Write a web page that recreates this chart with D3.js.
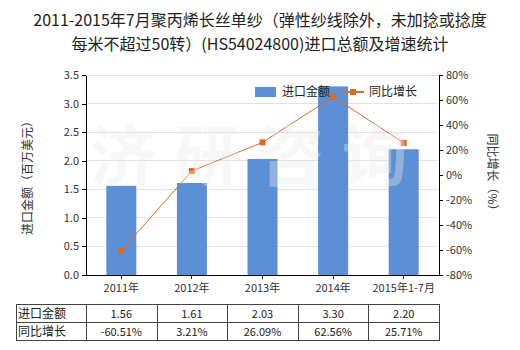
<!DOCTYPE html>
<html>
<head>
<meta charset="utf-8">
<script src="https://cdn.jsdelivr.net/npm/d3@7"></script>
<style>
  html, body { margin: 0; padding: 0; background: #fff; }
  svg { display: block; font-family: "Noto Sans CJK SC", "Noto Sans", sans-serif; }
</style>
</head>
<body>
<svg id="chart" width="520" height="350"></svg>
<script>
// Categories and series
const categories = ["2011年", "2012年", "2013年", "2014年", "2015年1-7月"];
const importValue = [1.56, 1.61, 2.03, 3.30, 2.20];          // 百万美元
const growthRate = [-60.51, 3.21, 26.09, 62.56, 25.71];      // %
const leftTicks = [0, 0.5, 1.0, 1.5, 2.0, 2.5, 3.0, 3.5];
const rightTicks = [-80, -60, -40, -20, 0, 20, 40, 60, 80];

const barColor = "#5b8fd6";
const lineColor = "#dc6a24";
const textColor = "#333";

const svg = d3.select("#chart");
const plot = { left: 86, right: 439, top: 75, bottom: 275 };

const band = d3.scaleBand().domain(categories).range([plot.left, plot.right]);
const yL = d3.scaleLinear().domain([0, 3.5]).range([plot.bottom, plot.top]);
const yR = d3.scaleLinear().domain([-80, 80]).range([plot.bottom, plot.top]);
const cx = d => band(d) + band.bandwidth() / 2;

// Title
const title = svg.append("text").attr("text-anchor", "middle").attr("fill", "#222")
  .style("font-size", "16px");
title.append("tspan").attr("x", 260).attr("y", 26).text("2011-2015年7月聚丙烯长丝单纱（弹性纱线除外，未加捻或捻度");
title.append("tspan").attr("x", 260).attr("y", 50).text("每米不超过50转）(HS54024800)进口总额及增速统计");

// Gridlines
svg.append("g").selectAll("line").data(leftTicks.slice(1)).join("line")
  .attr("x1", plot.left).attr("x2", plot.right)
  .attr("y1", d => yL(d)).attr("y2", d => yL(d))
  .attr("stroke", "#e3e3e3").attr("stroke-width", 1).attr("shape-rendering", "crispEdges");

// Bars
svg.append("g").selectAll("rect").data(categories).join("rect")
  .attr("x", d => cx(d) - 15)
  .attr("width", 30)
  .attr("y", (d, i) => yL(importValue[i]))
  .attr("height", (d, i) => yL(0) - yL(importValue[i]))
  .attr("fill", barColor);

// Growth line
const line = d3.line().x((d, i) => cx(categories[i])).y(d => yR(d));
svg.append("path").datum(growthRate).attr("d", line)
  .attr("fill", "none").attr("stroke", lineColor).attr("stroke-width", 1);
svg.append("g").selectAll("rect").data(growthRate).join("rect")
  .attr("x", (d, i) => cx(categories[i]) - 3).attr("y", d => yR(d) - 3)
  .attr("width", 6).attr("height", 6).attr("fill", lineColor);

// Watermark, laid over the plot
svg.append("text").attr("x", 258).attr("y", 180).attr("text-anchor", "middle")
  .attr("fill", "#ebebeb").attr("fill-opacity", 0.38)
  .style("font-size", "66px").style("font-weight", "bold").style("letter-spacing", "18px")
  .text("济研咨询");

// Axes
const axL = svg.append("g").attr("transform", `translate(${plot.left},0)`)
  .call(d3.axisLeft(yL).tickValues(leftTicks).tickFormat(d3.format(".1f")).tickSize(4).tickSizeOuter(0));
const axR = svg.append("g").attr("transform", `translate(${plot.right},0)`)
  .call(d3.axisRight(yR).tickValues(rightTicks).tickFormat(d => d + "%").tickSize(4).tickSizeOuter(0));
const axB = svg.append("g").attr("transform", `translate(0,${plot.bottom})`)
  .call(d3.axisBottom(band).tickSize(4).tickSizeOuter(0));
[axL, axR, axB].forEach(a => {
  a.selectAll("path, line").attr("stroke", "#000").attr("shape-rendering", "crispEdges");
  a.selectAll("text").attr("fill", textColor).style("font-size", "11px").style("font-family", "'Noto Sans CJK SC', sans-serif");
});
axB.selectAll("text").attr("dy", "0.9em");

// Axis titles
svg.append("text").attr("transform", "translate(32,175) rotate(-90)").attr("text-anchor", "middle")
  .attr("fill", textColor).style("font-size", "12px").text("进口金额（百万美元）");
svg.append("text").attr("transform", "translate(488,175) rotate(90)").attr("text-anchor", "middle")
  .attr("fill", textColor).style("font-size", "12px").text("同比增长（%）");

// Legend
const lg = svg.append("g");
lg.append("rect").attr("x", 255).attr("y", 87).attr("width", 21).attr("height", 10).attr("fill", barColor);
lg.append("text").attr("x", 282).attr("y", 96).attr("fill", "#222").style("font-size", "12px").text("进口金额");
lg.append("line").attr("x1", 342).attr("x2", 364).attr("y1", 92).attr("y2", 92).attr("stroke", lineColor).attr("stroke-width", 2);
lg.append("rect").attr("x", 350).attr("y", 89).attr("width", 6).attr("height", 6).attr("fill", lineColor);
lg.append("text").attr("x", 369).attr("y", 96).attr("fill", "#222").style("font-size", "12px").text("同比增长");

// Data table
const tbl = svg.append("g");
const rowY = [304, 322, 340];
const colX = [16].concat(categories.map(d => band(d)), [plot.right]);
const rows = [
  { label: "进口金额", vals: importValue.map(v => v.toFixed(2)) },
  { label: "同比增长", vals: growthRate.map(v => v.toFixed(2) + "%") }
];
tbl.selectAll("line.h").data(rowY).join("line")
  .attr("x1", colX[0]).attr("x2", colX[colX.length - 1])
  .attr("y1", d => d + 0.5).attr("y2", d => d + 0.5).attr("stroke", "#444");
tbl.selectAll("line.v").data(colX).join("line")
  .attr("x1", d => Math.round(d) + 0.5).attr("x2", d => Math.round(d) + 0.5)
  .attr("y1", rowY[0]).attr("y2", rowY[2] + 1).attr("stroke", "#444");
rows.forEach((r, ri) => {
  const yMid = (rowY[ri] + rowY[ri + 1]) / 2 + 4.5;
  tbl.append("text").attr("x", 18).attr("y", yMid).attr("fill", "#222").style("font-size", "12px").text(r.label);
  r.vals.forEach((v, i) => {
    tbl.append("text").attr("x", cx(categories[i])).attr("y", yMid).attr("text-anchor", "middle")
      .attr("fill", "#222").style("font-size", "11px").text(v);
  });
});
</script>
</body>
</html>
